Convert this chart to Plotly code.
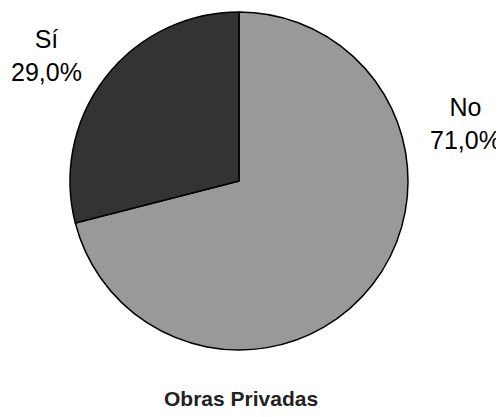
import plotly.graph_objects as go

labels = ["No", "Sí"]
values = [71.0, 29.0]
colors = ["#999999", "#333333"]
title = "Obras Privadas"

W, H = 504, 417
OFF = 8  # browser body margin shifts the figure by 8px

# label centres in page pixels
label_pos = {"No": (465, 123), "Sí": (46, 56)}

fig = go.Figure()
fig.add_trace(go.Pie(
    labels=labels,
    values=values,
    sort=False,
    direction="clockwise",
    rotation=0,
    textinfo="none",
    hoverinfo="label+percent",
    marker=dict(colors=colors, line=dict(color="black", width=1.5)),
    domain=dict(x=[(70 - OFF) / W, (408 - OFF) / W],
                y=[1 - (350 - OFF) / H, 1 - (12 - OFF) / H]),
    showlegend=False,
))

for lab, val in zip(labels, values):
    px, py = label_pos[lab]
    fig.add_annotation(
        x=(px - OFF) / W, y=1 - (py - OFF) / H, xref="paper", yref="paper",
        xanchor="center", yanchor="middle",
        text=lab + "<br>" + ("%.1f" % val).replace(".", ",") + "%",
        showarrow=False,
        font=dict(family="Liberation Sans, Arial", size=25, color="black"),
        align="center",
    )

fig.add_annotation(
    x=(241 - OFF) / W, y=1 - (398 - OFF) / H, xref="paper", yref="paper",
    xanchor="center", yanchor="middle",
    text="<b>" + title + "</b>",
    showarrow=False,
    font=dict(family="Liberation Sans, Arial", size=21, color="#222222"),
)

fig.update_layout(
    width=W, height=H,
    margin=dict(l=0, r=0, t=0, b=0),
    paper_bgcolor="white",
    plot_bgcolor="white",
)

fig.write_html("out.html")
